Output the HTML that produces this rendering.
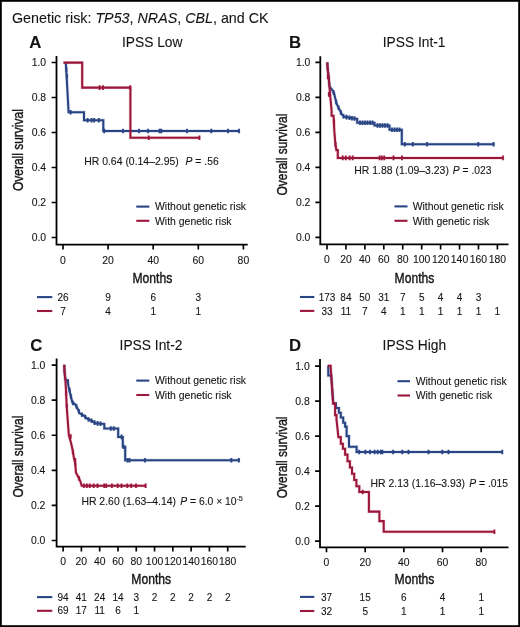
<!DOCTYPE html><html><head><meta charset="utf-8"><style>
html,body{margin:0;padding:0;background:#fff;}
svg{display:block;}
text{font-family:"Liberation Sans", sans-serif;fill:#141414;stroke:#141414;stroke-width:0.1px;}
</style></head><body>
<svg width="520" height="627" viewBox="0 0 520 627">
<rect x="0" y="0" width="520" height="627" fill="#fff"/>
<g style="filter:blur(0.25px)">
<text x="12" y="22.6" font-size="14.2" textLength="256.6" lengthAdjust="spacingAndGlyphs">Genetic risk: <tspan font-style="italic">TP53</tspan>, <tspan font-style="italic">NRAS</tspan>, <tspan font-style="italic">CBL</tspan>, and CK</text>
<path d="M56.5,56 V244.6 H247.7" fill="none" stroke="#000" stroke-width="1.8" stroke-linecap="butt"/>
<text x="46.1" y="66" font-size="10.4" text-anchor="end">1.0</text>
<text x="46.1" y="101" font-size="10.4" text-anchor="end">0.8</text>
<text x="46.1" y="136" font-size="10.4" text-anchor="end">0.6</text>
<text x="46.1" y="171" font-size="10.4" text-anchor="end">0.4</text>
<text x="46.1" y="206" font-size="10.4" text-anchor="end">0.2</text>
<text x="46.1" y="241" font-size="10.4" text-anchor="end">0.0</text>
<text x="63" y="263.6" font-size="10.4" text-anchor="middle">0</text>
<text x="108.1" y="263.6" font-size="10.4" text-anchor="middle">20</text>
<text x="153.2" y="263.6" font-size="10.4" text-anchor="middle">40</text>
<text x="198.3" y="263.6" font-size="10.4" text-anchor="middle">60</text>
<text x="243.4" y="263.6" font-size="10.4" text-anchor="middle">80</text>
<path d="M51.6,62.5 H56.5 M51.6,97.5 H56.5 M51.6,132.5 H56.5 M51.6,167.5 H56.5 M51.6,202.5 H56.5 M51.6,237.5 H56.5 M63,244.6 V249.6 M108.1,244.6 V249.6 M153.2,244.6 V249.6 M198.3,244.6 V249.6 M243.4,244.6 V249.6" fill="none" stroke="#000" stroke-width="1.65"/>
<text x="29.2" y="47.5" font-size="16.8" font-weight="bold">A</text>
<text x="152.2" y="47.4" font-size="13.8" text-anchor="middle">IPSS Low</text>
<text x="152.4" y="283.2" font-size="14.8" style="stroke-width:0.4px" text-anchor="middle" textLength="39.8" lengthAdjust="spacingAndGlyphs">Months</text>
<text transform="translate(23.3,150.1) rotate(-90)" x="0" y="0" font-size="14.2" style="stroke-width:0.4px" text-anchor="middle" textLength="81.8" lengthAdjust="spacingAndGlyphs">Overall survival</text>
<path d="M136.3,206.6 H149.3" stroke="#294482" stroke-width="2.1"/>
<path d="M136.3,220.8 H149.3" stroke="#9a173c" stroke-width="2.1"/>
<text x="155" y="210.3" font-size="10.45">Without genetic risk</text>
<text x="155" y="224.5" font-size="10.45">With genetic risk</text>
<path d="M37,297.1 H52.3" stroke="#294482" stroke-width="2.1"/>
<path d="M37,311 H52.3" stroke="#9a173c" stroke-width="2.1"/>
<text x="63" y="300.7" font-size="10" text-anchor="middle">26</text>
<text x="108.1" y="300.7" font-size="10" text-anchor="middle">9</text>
<text x="153.2" y="300.7" font-size="10" text-anchor="middle">6</text>
<text x="198.3" y="300.7" font-size="10" text-anchor="middle">3</text>
<text x="63" y="314.8" font-size="10" text-anchor="middle">7</text>
<text x="108.1" y="314.8" font-size="10" text-anchor="middle">4</text>
<text x="153.2" y="314.8" font-size="10" text-anchor="middle">1</text>
<text x="198.3" y="314.8" font-size="10" text-anchor="middle">1</text>
<text x="84.2" y="164.7" font-size="10.35" textLength="94.6" lengthAdjust="spacingAndGlyphs">HR 0.64 (0.14–2.95)</text>
<text x="185.6" y="164.7" font-size="10.35"><tspan font-style="italic">P</tspan> = .56</text>
<g fill="none" stroke="#3a5aa0" stroke-opacity="0.2"><path d="M65.8,62.6 L66.6,76 L68.6,112.2 H84 V120.2 H103.3 V131.0 H240" stroke-width="3.4499999999999997"/><path d="M66.4,67.1 V71.7 M66.9,73.7 V78.3 M70.6,109.9 V114.5 M87.6,117.9 V122.5 M91.6,117.9 V122.5 M94.2,117.9 V122.5 M98.8,117.9 V122.5 M104.2,128.7 V133.3 M123,128.7 V133.3 M139,128.7 V133.3 M148,128.7 V133.3 M159.5,128.7 V133.3 M161.3,128.7 V133.3 M187,128.7 V133.3 M211.3,128.7 V133.3 M228,128.7 V133.3 M239,128.7 V133.3" stroke-width="2.9"/></g>
<g fill="none" stroke="#294482"><path d="M65.8,62.6 L66.6,76 L68.6,112.2 H84 V120.2 H103.3 V131.0 H240" stroke-width="2.05"/><path d="M66.4,67.1 V71.7 M66.9,73.7 V78.3 M70.6,109.9 V114.5 M87.6,117.9 V122.5 M91.6,117.9 V122.5 M94.2,117.9 V122.5 M98.8,117.9 V122.5 M104.2,128.7 V133.3 M123,128.7 V133.3 M139,128.7 V133.3 M148,128.7 V133.3 M159.5,128.7 V133.3 M161.3,128.7 V133.3 M187,128.7 V133.3 M211.3,128.7 V133.3 M228,128.7 V133.3 M239,128.7 V133.3" stroke-width="1.7"/></g>
<g fill="none" stroke="#d0406a" stroke-opacity="0.2"><path d="M63.4,62.6 H82.2 V87.6 H130.4 V137.7 H199.6" stroke-width="3.4499999999999997"/><path d="M99.6,85.3 V89.9 M103,85.3 V89.9 M130.2,85.3 V89.9 M148.8,135.4 V140 M199.5,135.4 V140" stroke-width="2.9"/></g>
<g fill="none" stroke="#9a173c"><path d="M63.4,62.6 H82.2 V87.6 H130.4 V137.7 H199.6" stroke-width="2.05"/><path d="M99.6,85.3 V89.9 M103,85.3 V89.9 M130.2,85.3 V89.9 M148.8,135.4 V140 M199.5,135.4 V140" stroke-width="1.7"/></g>
<path d="M320.3,56.2 V244.4 H508.5" fill="none" stroke="#000" stroke-width="1.8" stroke-linecap="butt"/>
<text x="310.4" y="65.9" font-size="10.4" text-anchor="end">1.0</text>
<text x="310.4" y="100.9" font-size="10.4" text-anchor="end">0.8</text>
<text x="310.4" y="135.9" font-size="10.4" text-anchor="end">0.6</text>
<text x="310.4" y="170.9" font-size="10.4" text-anchor="end">0.4</text>
<text x="310.4" y="205.9" font-size="10.4" text-anchor="end">0.2</text>
<text x="310.4" y="240.9" font-size="10.4" text-anchor="end">0.0</text>
<text x="327" y="263.3" font-size="10.4" text-anchor="middle">0</text>
<text x="345.93" y="263.3" font-size="10.4" text-anchor="middle">20</text>
<text x="364.87" y="263.3" font-size="10.4" text-anchor="middle">40</text>
<text x="383.8" y="263.3" font-size="10.4" text-anchor="middle">60</text>
<text x="402.73" y="263.3" font-size="10.4" text-anchor="middle">80</text>
<text x="421.67" y="263.3" font-size="10.4" text-anchor="middle">100</text>
<text x="440.6" y="263.3" font-size="10.4" text-anchor="middle">120</text>
<text x="459.53" y="263.3" font-size="10.4" text-anchor="middle">140</text>
<text x="478.47" y="263.3" font-size="10.4" text-anchor="middle">160</text>
<text x="497.4" y="263.3" font-size="10.4" text-anchor="middle">180</text>
<path d="M315.4,62.4 H320.3 M315.4,97.4 H320.3 M315.4,132.4 H320.3 M315.4,167.4 H320.3 M315.4,202.4 H320.3 M315.4,237.4 H320.3 M327,244.4 V249.4 M345.93,244.4 V249.4 M364.87,244.4 V249.4 M383.8,244.4 V249.4 M402.73,244.4 V249.4 M421.67,244.4 V249.4 M440.6,244.4 V249.4 M459.53,244.4 V249.4 M478.47,244.4 V249.4 M497.4,244.4 V249.4" fill="none" stroke="#000" stroke-width="1.65"/>
<text x="288.9" y="47.6" font-size="16.8" font-weight="bold">B</text>
<text x="414.1" y="47.4" font-size="13.8" text-anchor="middle">IPSS Int-1</text>
<text x="414.5" y="283.3" font-size="14.8" style="stroke-width:0.4px" text-anchor="middle" textLength="39.8" lengthAdjust="spacingAndGlyphs">Months</text>
<text transform="translate(287,154.6) rotate(-90)" x="0" y="0" font-size="14.2" style="stroke-width:0.4px" text-anchor="middle" textLength="81.8" lengthAdjust="spacingAndGlyphs">Overall survival</text>
<path d="M394.5,206.4 H407.5" stroke="#294482" stroke-width="2.1"/>
<path d="M394.5,220.8 H407.5" stroke="#9a173c" stroke-width="2.1"/>
<text x="412.7" y="210.1" font-size="10.45">Without genetic risk</text>
<text x="412.7" y="224.5" font-size="10.45">With genetic risk</text>
<path d="M300,297 H314.3" stroke="#294482" stroke-width="2.1"/>
<path d="M300,310.9 H314.3" stroke="#9a173c" stroke-width="2.1"/>
<text x="327" y="300.7" font-size="10" text-anchor="middle">173</text>
<text x="345.93" y="300.7" font-size="10" text-anchor="middle">84</text>
<text x="364.87" y="300.7" font-size="10" text-anchor="middle">50</text>
<text x="383.8" y="300.7" font-size="10" text-anchor="middle">31</text>
<text x="402.73" y="300.7" font-size="10" text-anchor="middle">7</text>
<text x="421.67" y="300.7" font-size="10" text-anchor="middle">5</text>
<text x="440.6" y="300.7" font-size="10" text-anchor="middle">4</text>
<text x="459.53" y="300.7" font-size="10" text-anchor="middle">4</text>
<text x="478.47" y="300.7" font-size="10" text-anchor="middle">3</text>
<text x="327" y="314.8" font-size="10" text-anchor="middle">33</text>
<text x="345.93" y="314.8" font-size="10" text-anchor="middle">11</text>
<text x="364.87" y="314.8" font-size="10" text-anchor="middle">7</text>
<text x="383.8" y="314.8" font-size="10" text-anchor="middle">4</text>
<text x="402.73" y="314.8" font-size="10" text-anchor="middle">1</text>
<text x="421.67" y="314.8" font-size="10" text-anchor="middle">1</text>
<text x="440.6" y="314.8" font-size="10" text-anchor="middle">1</text>
<text x="459.53" y="314.8" font-size="10" text-anchor="middle">1</text>
<text x="478.47" y="314.8" font-size="10" text-anchor="middle">1</text>
<text x="497.4" y="314.8" font-size="10" text-anchor="middle">1</text>
<text x="354.3" y="173.5" font-size="10.35" textLength="94.6" lengthAdjust="spacingAndGlyphs">HR 1.88 (1.09–3.23)</text>
<text x="452.7" y="173.5" font-size="10.35"><tspan font-style="italic">P</tspan> = .023</text>
<g fill="none" stroke="#3a5aa0" stroke-opacity="0.2"><path d="M327.3,62.4 L327.7,69.5 L328.7,77.1 L329.5,86.7 L331.6,89 L334,93 L335.6,99.7 L336.8,104.2 L339,108.6 L341.8,114.2 L344,116.8 L347.4,117.3 L352.4,118.3 L357.2,118.8 V122.8 H374.5 V125.5 H389.5 V129.8 H401.8 V144.2 H494.4" stroke-width="3.4499999999999997"/><path d="M333.5,90.1 V94.7 M336.2,99.7 V104.3 M338.5,105.5 V110.1 M340.8,110.1 V114.7 M343.5,114 V118.6 M346.5,114.8 V119.4 M349.5,115.4 V120 M352,115.9 V120.5 M354.5,116.2 V120.8 M360,120.5 V125.1 M362.5,120.5 V125.1 M365,120.5 V125.1 M367.5,120.5 V125.1 M370,120.5 V125.1 M372.5,120.5 V125.1 M377.5,123.2 V127.8 M380,123.2 V127.8 M382.5,123.2 V127.8 M385,123.2 V127.8 M387.5,123.2 V127.8 M392,127.5 V132.1 M394.5,127.5 V132.1 M397,127.5 V132.1 M399.5,127.5 V132.1 M404.8,141.9 V146.5 M412.8,141.9 V146.5 M427.1,141.9 V146.5 M478.3,141.9 V146.5 M493.6,141.9 V146.5" stroke-width="2.9"/></g>
<g fill="none" stroke="#294482"><path d="M327.3,62.4 L327.7,69.5 L328.7,77.1 L329.5,86.7 L331.6,89 L334,93 L335.6,99.7 L336.8,104.2 L339,108.6 L341.8,114.2 L344,116.8 L347.4,117.3 L352.4,118.3 L357.2,118.8 V122.8 H374.5 V125.5 H389.5 V129.8 H401.8 V144.2 H494.4" stroke-width="2.05"/><path d="M333.5,90.1 V94.7 M336.2,99.7 V104.3 M338.5,105.5 V110.1 M340.8,110.1 V114.7 M343.5,114 V118.6 M346.5,114.8 V119.4 M349.5,115.4 V120 M352,115.9 V120.5 M354.5,116.2 V120.8 M360,120.5 V125.1 M362.5,120.5 V125.1 M365,120.5 V125.1 M367.5,120.5 V125.1 M370,120.5 V125.1 M372.5,120.5 V125.1 M377.5,123.2 V127.8 M380,123.2 V127.8 M382.5,123.2 V127.8 M385,123.2 V127.8 M387.5,123.2 V127.8 M392,127.5 V132.1 M394.5,127.5 V132.1 M397,127.5 V132.1 M399.5,127.5 V132.1 M404.8,141.9 V146.5 M412.8,141.9 V146.5 M427.1,141.9 V146.5 M478.3,141.9 V146.5 M493.6,141.9 V146.5" stroke-width="1.7"/></g>
<g fill="none" stroke="#d0406a" stroke-opacity="0.2"><path d="M327.3,62.4 L327.7,69.5 L328.7,77.1 L329.5,86.7 L330.1,94.4 L330.8,102 L331.6,110.6 V115.7 H333.5 L334.4,131.9 L335.4,144.4 L336.4,150.1 H337.8 V157.9 H503.3" stroke-width="3.4499999999999997"/><path d="M327.8,74.7 V79.3 M328.8,92.1 V96.7 M334.1,119.6 V124.2 M335.6,142.3 V146.9 M342.7,155.6 V160.2 M345.8,155.6 V160.2 M349.6,155.6 V160.2 M352.7,155.6 V160.2 M379.6,155.6 V160.2 M381.8,155.6 V160.2 M384.2,155.6 V160.2 M393.5,155.6 V160.2 M402,155.6 V160.2 M503,155.6 V160.2" stroke-width="2.9"/></g>
<g fill="none" stroke="#9a173c"><path d="M327.3,62.4 L327.7,69.5 L328.7,77.1 L329.5,86.7 L330.1,94.4 L330.8,102 L331.6,110.6 V115.7 H333.5 L334.4,131.9 L335.4,144.4 L336.4,150.1 H337.8 V157.9 H503.3" stroke-width="2.05"/><path d="M327.8,74.7 V79.3 M328.8,92.1 V96.7 M334.1,119.6 V124.2 M335.6,142.3 V146.9 M342.7,155.6 V160.2 M345.8,155.6 V160.2 M349.6,155.6 V160.2 M352.7,155.6 V160.2 M379.6,155.6 V160.2 M381.8,155.6 V160.2 M384.2,155.6 V160.2 M393.5,155.6 V160.2 M402,155.6 V160.2 M503,155.6 V160.2" stroke-width="1.7"/></g>
<path d="M56.6,358.5 V546.6 H245.7" fill="none" stroke="#000" stroke-width="1.8" stroke-linecap="butt"/>
<text x="45.4" y="368.6" font-size="10.4" text-anchor="end">1.0</text>
<text x="45.4" y="403.68" font-size="10.4" text-anchor="end">0.8</text>
<text x="45.4" y="438.76" font-size="10.4" text-anchor="end">0.6</text>
<text x="45.4" y="473.84" font-size="10.4" text-anchor="end">0.4</text>
<text x="45.4" y="508.92" font-size="10.4" text-anchor="end">0.2</text>
<text x="45.4" y="544" font-size="10.4" text-anchor="end">0.0</text>
<text x="63.1" y="564.8" font-size="10.4" text-anchor="middle">0</text>
<text x="81.39" y="564.8" font-size="10.4" text-anchor="middle">20</text>
<text x="99.68" y="564.8" font-size="10.4" text-anchor="middle">40</text>
<text x="117.97" y="564.8" font-size="10.4" text-anchor="middle">60</text>
<text x="136.26" y="564.8" font-size="10.4" text-anchor="middle">80</text>
<text x="154.54" y="564.8" font-size="10.4" text-anchor="middle">100</text>
<text x="172.83" y="564.8" font-size="10.4" text-anchor="middle">120</text>
<text x="191.12" y="564.8" font-size="10.4" text-anchor="middle">140</text>
<text x="209.41" y="564.8" font-size="10.4" text-anchor="middle">160</text>
<text x="227.7" y="564.8" font-size="10.4" text-anchor="middle">180</text>
<path d="M51.7,365.1 H56.6 M51.7,400.18 H56.6 M51.7,435.26 H56.6 M51.7,470.34 H56.6 M51.7,505.42 H56.6 M51.7,540.5 H56.6 M63.1,546.6 V551.6 M81.39,546.6 V551.6 M99.68,546.6 V551.6 M117.97,546.6 V551.6 M136.26,546.6 V551.6 M154.54,546.6 V551.6 M172.83,546.6 V551.6 M191.12,546.6 V551.6 M209.41,546.6 V551.6 M227.7,546.6 V551.6" fill="none" stroke="#000" stroke-width="1.65"/>
<text x="30.2" y="350.8" font-size="16.8" font-weight="bold">C</text>
<text x="151" y="350.4" font-size="13.8" text-anchor="middle">IPSS Int-2</text>
<text x="151.25" y="584.1" font-size="14.8" style="stroke-width:0.4px" text-anchor="middle" textLength="39.8" lengthAdjust="spacingAndGlyphs">Months</text>
<text transform="translate(23.3,456.6) rotate(-90)" x="0" y="0" font-size="14.2" style="stroke-width:0.4px" text-anchor="middle" textLength="81.8" lengthAdjust="spacingAndGlyphs">Overall survival</text>
<path d="M136.3,380.6 H149.3" stroke="#294482" stroke-width="2.1"/>
<path d="M136.3,395 H149.3" stroke="#9a173c" stroke-width="2.1"/>
<text x="155" y="384.3" font-size="10.45">Without genetic risk</text>
<text x="155" y="398.7" font-size="10.45">With genetic risk</text>
<path d="M37,597.1 H52.3" stroke="#294482" stroke-width="2.1"/>
<path d="M37,610.8 H52.3" stroke="#9a173c" stroke-width="2.1"/>
<text x="63.1" y="600.8" font-size="10" text-anchor="middle">94</text>
<text x="81.39" y="600.8" font-size="10" text-anchor="middle">41</text>
<text x="99.68" y="600.8" font-size="10" text-anchor="middle">24</text>
<text x="117.97" y="600.8" font-size="10" text-anchor="middle">14</text>
<text x="136.26" y="600.8" font-size="10" text-anchor="middle">3</text>
<text x="154.54" y="600.8" font-size="10" text-anchor="middle">2</text>
<text x="172.83" y="600.8" font-size="10" text-anchor="middle">2</text>
<text x="191.12" y="600.8" font-size="10" text-anchor="middle">2</text>
<text x="209.41" y="600.8" font-size="10" text-anchor="middle">2</text>
<text x="227.7" y="600.8" font-size="10" text-anchor="middle">2</text>
<text x="63.1" y="614.4" font-size="10" text-anchor="middle">69</text>
<text x="81.39" y="614.4" font-size="10" text-anchor="middle">17</text>
<text x="99.68" y="614.4" font-size="10" text-anchor="middle">11</text>
<text x="117.97" y="614.4" font-size="10" text-anchor="middle">6</text>
<text x="136.26" y="614.4" font-size="10" text-anchor="middle">1</text>
<text x="81.4" y="505.3" font-size="10.35" textLength="94.6" lengthAdjust="spacingAndGlyphs">HR 2.60 (1.63–4.14)</text>
<text x="180.2" y="505.3" font-size="10.35"><tspan font-style="italic">P</tspan> = 6.0 × 10<tspan font-size="7.4" dy="-4.4" dx="-0.2">-5</tspan></text>
<g fill="none" stroke="#3a5aa0" stroke-opacity="0.2"><path d="M64.3,364.8 L64.5,371.5 L65.3,379 L67.3,380.5 L68.6,386.8 L70.9,396.7 L72.4,402.5 L75.2,404.3 L78.1,409.7 L79.5,413.3 L83.8,415.6 L86.7,418.3 L92.4,421.2 L95.3,423.2 L104.3,424 V428.4 H118.2 V436.9 H122.8 V446.7 H125.2 V460.3 H240" stroke-width="3.4499999999999997"/><path d="M68.1,379.2 V383.8 M69.6,387.7 V392.3 M71,394.2 V398.8 M73,400.7 V405.3 M76.5,404.2 V408.8 M79,409.2 V413.8 M82,412.5 V417.1 M85.3,414.7 V419.3 M88.5,417.2 V421.8 M91.5,418.5 V423.1 M94.5,420.3 V424.9 M97.5,421.1 V425.7 M100.5,421.4 V426 M110.8,426.2 V430.8 M113.8,426.2 V430.8 M121.5,434.6 V439.2 M123.5,444.4 V449 M127.5,458 V462.6 M129.5,458 V462.6 M145,458 V462.6 M231.3,458 V462.6 M238.8,458 V462.6" stroke-width="2.9"/></g>
<g fill="none" stroke="#294482"><path d="M64.3,364.8 L64.5,371.5 L65.3,379 L67.3,380.5 L68.6,386.8 L70.9,396.7 L72.4,402.5 L75.2,404.3 L78.1,409.7 L79.5,413.3 L83.8,415.6 L86.7,418.3 L92.4,421.2 L95.3,423.2 L104.3,424 V428.4 H118.2 V436.9 H122.8 V446.7 H125.2 V460.3 H240" stroke-width="2.05"/><path d="M68.1,379.2 V383.8 M69.6,387.7 V392.3 M71,394.2 V398.8 M73,400.7 V405.3 M76.5,404.2 V408.8 M79,409.2 V413.8 M82,412.5 V417.1 M85.3,414.7 V419.3 M88.5,417.2 V421.8 M91.5,418.5 V423.1 M94.5,420.3 V424.9 M97.5,421.1 V425.7 M100.5,421.4 V426 M110.8,426.2 V430.8 M113.8,426.2 V430.8 M121.5,434.6 V439.2 M123.5,444.4 V449 M127.5,458 V462.6 M129.5,458 V462.6 M145,458 V462.6 M231.3,458 V462.6 M238.8,458 V462.6" stroke-width="1.7"/></g>
<g fill="none" stroke="#d0406a" stroke-opacity="0.2"><path d="M64.3,364.8 L64.5,371.5 L65.3,379 L65.9,388.7 L66.7,406 L67.9,422.8 L68.9,435.5 L70.8,441.9 L72.8,450.8 L74,458.5 L75.3,463.6 L75.9,472.5 L77.9,476.3 L80.4,481.4 L81.7,485.8 H146.2" stroke-width="3.4499999999999997"/><path d="M66.2,391.2 V395.8 M66.7,403.7 V408.3 M70.8,434.2 V438.8 M72.8,449.7 V454.3 M75.3,458.1 V462.7 M75.3,460.9 V465.5 M79.1,476.2 V480.8 M84,483.5 V488.1 M86.9,483.5 V488.1 M89.8,483.5 V488.1 M93.7,483.5 V488.1 M97.5,483.5 V488.1 M104.2,483.5 V488.1 M106.2,483.5 V488.1 M111.9,483.5 V488.1 M117.7,483.5 V488.1 M121.5,483.5 V488.1 M127.3,483.5 V488.1 M131.2,483.5 V488.1 M136,483.5 V488.1 M145.6,483.5 V488.1" stroke-width="2.9"/></g>
<g fill="none" stroke="#9a173c"><path d="M64.3,364.8 L64.5,371.5 L65.3,379 L65.9,388.7 L66.7,406 L67.9,422.8 L68.9,435.5 L70.8,441.9 L72.8,450.8 L74,458.5 L75.3,463.6 L75.9,472.5 L77.9,476.3 L80.4,481.4 L81.7,485.8 H146.2" stroke-width="2.05"/><path d="M66.2,391.2 V395.8 M66.7,403.7 V408.3 M70.8,434.2 V438.8 M72.8,449.7 V454.3 M75.3,458.1 V462.7 M75.3,460.9 V465.5 M79.1,476.2 V480.8 M84,483.5 V488.1 M86.9,483.5 V488.1 M89.8,483.5 V488.1 M93.7,483.5 V488.1 M97.5,483.5 V488.1 M104.2,483.5 V488.1 M106.2,483.5 V488.1 M111.9,483.5 V488.1 M117.7,483.5 V488.1 M121.5,483.5 V488.1 M127.3,483.5 V488.1 M131.2,483.5 V488.1 M136,483.5 V488.1 M145.6,483.5 V488.1" stroke-width="1.7"/></g>
<path d="M320,358.9 V547.3 H508.5" fill="none" stroke="#000" stroke-width="1.8" stroke-linecap="butt"/>
<text x="309.7" y="369.6" font-size="10.4" text-anchor="end">1.0</text>
<text x="309.7" y="404.6" font-size="10.4" text-anchor="end">0.8</text>
<text x="309.7" y="439.6" font-size="10.4" text-anchor="end">0.6</text>
<text x="309.7" y="474.6" font-size="10.4" text-anchor="end">0.4</text>
<text x="309.7" y="509.6" font-size="10.4" text-anchor="end">0.2</text>
<text x="309.7" y="544.6" font-size="10.4" text-anchor="end">0.0</text>
<text x="326.5" y="566" font-size="10.4" text-anchor="middle">0</text>
<text x="365.18" y="566" font-size="10.4" text-anchor="middle">20</text>
<text x="403.85" y="566" font-size="10.4" text-anchor="middle">40</text>
<text x="442.52" y="566" font-size="10.4" text-anchor="middle">60</text>
<text x="481.2" y="566" font-size="10.4" text-anchor="middle">80</text>
<path d="M315.1,366.1 H320 M315.1,401.1 H320 M315.1,436.1 H320 M315.1,471.1 H320 M315.1,506.1 H320 M315.1,541.1 H320 M326.5,547.3 V552.3 M365.18,547.3 V552.3 M403.85,547.3 V552.3 M442.52,547.3 V552.3 M481.2,547.3 V552.3" fill="none" stroke="#000" stroke-width="1.65"/>
<text x="288.9" y="350.8" font-size="16.8" font-weight="bold">D</text>
<text x="414.4" y="350.4" font-size="13.8" text-anchor="middle">IPSS High</text>
<text x="414.5" y="584.3" font-size="14.8" style="stroke-width:0.4px" text-anchor="middle" textLength="39.8" lengthAdjust="spacingAndGlyphs">Months</text>
<text transform="translate(287,457.4) rotate(-90)" x="0" y="0" font-size="14.2" style="stroke-width:0.4px" text-anchor="middle" textLength="81.8" lengthAdjust="spacingAndGlyphs">Overall survival</text>
<path d="M397.5,381.2 H410" stroke="#294482" stroke-width="2.1"/>
<path d="M397.5,395.5 H410" stroke="#9a173c" stroke-width="2.1"/>
<text x="415.7" y="384.9" font-size="10.45">Without genetic risk</text>
<text x="415.7" y="399.2" font-size="10.45">With genetic risk</text>
<path d="M300,596.9 H314.3" stroke="#294482" stroke-width="2.1"/>
<path d="M300,611 H314.3" stroke="#9a173c" stroke-width="2.1"/>
<text x="326.5" y="601.1" font-size="10" text-anchor="middle">37</text>
<text x="365.18" y="601.1" font-size="10" text-anchor="middle">15</text>
<text x="403.85" y="601.1" font-size="10" text-anchor="middle">6</text>
<text x="442.52" y="601.1" font-size="10" text-anchor="middle">4</text>
<text x="481.2" y="601.1" font-size="10" text-anchor="middle">1</text>
<text x="326.5" y="614.9" font-size="10" text-anchor="middle">32</text>
<text x="365.18" y="614.9" font-size="10" text-anchor="middle">5</text>
<text x="403.85" y="614.9" font-size="10" text-anchor="middle">1</text>
<text x="442.52" y="614.9" font-size="10" text-anchor="middle">1</text>
<text x="481.2" y="614.9" font-size="10" text-anchor="middle">1</text>
<text x="370.5" y="487.1" font-size="10.35" textLength="94.6" lengthAdjust="spacingAndGlyphs">HR 2.13 (1.16–3.93)</text>
<text x="469.3" y="487.1" font-size="10.35"><tspan font-style="italic">P</tspan> = .015</text>
<g fill="none" stroke="#3a5aa0" stroke-opacity="0.2"><path d="M328.3,365.9 V375.5 H331.2 L333.2,403.2 H335.1 H336 V407.9 H338.9 V412.7 H340.8 V417.5 H343.2 V422.8 H345.1 V426.6 H346.6 V436.1 H349 V446.7 H356.6 V452.0 H502.5" stroke-width="3.4499999999999997"/><path d="M359.2,449.7 V454.3 M365.4,449.7 V454.3 M370,449.7 V454.3 M374.6,449.7 V454.3 M377.7,449.7 V454.3 M380.8,449.7 V454.3 M382.3,449.7 V454.3 M393.1,449.7 V454.3 M402.3,449.7 V454.3 M408.5,449.7 V454.3 M428.5,449.7 V454.3 M442.3,449.7 V454.3 M448.5,449.7 V454.3 M502.3,449.7 V454.3" stroke-width="2.9"/></g>
<g fill="none" stroke="#294482"><path d="M328.3,365.9 V375.5 H331.2 L333.2,403.2 H335.1 H336 V407.9 H338.9 V412.7 H340.8 V417.5 H343.2 V422.8 H345.1 V426.6 H346.6 V436.1 H349 V446.7 H356.6 V452.0 H502.5" stroke-width="2.05"/><path d="M359.2,449.7 V454.3 M365.4,449.7 V454.3 M370,449.7 V454.3 M374.6,449.7 V454.3 M377.7,449.7 V454.3 M380.8,449.7 V454.3 M382.3,449.7 V454.3 M393.1,449.7 V454.3 M402.3,449.7 V454.3 M408.5,449.7 V454.3 M428.5,449.7 V454.3 M442.3,449.7 V454.3 M448.5,449.7 V454.3 M502.3,449.7 V454.3" stroke-width="1.7"/></g>
<g fill="none" stroke="#d0406a" stroke-opacity="0.2"><path d="M327.6,365.8 H330.6 L333.2,403.6 H335.1 V415.1 H336.5 V419.4 L338.4,437.1 H340.8 V443.8 H342.9 V448.8 H345.1 V454.6 H347.5 V461.3 H349.9 V467.5 H352 V473.7 H354.2 V479.9 H356.4 V486.2 H359.3 V492 H368.9 V511.6 H379.4 V521.1 H383.7 V531.7 H494.6" stroke-width="3.4499999999999997"/><path d="M362.7,489.7 V494.3 M494.4,529.4 V534" stroke-width="2.9"/></g>
<g fill="none" stroke="#9a173c"><path d="M327.6,365.8 H330.6 L333.2,403.6 H335.1 V415.1 H336.5 V419.4 L338.4,437.1 H340.8 V443.8 H342.9 V448.8 H345.1 V454.6 H347.5 V461.3 H349.9 V467.5 H352 V473.7 H354.2 V479.9 H356.4 V486.2 H359.3 V492 H368.9 V511.6 H379.4 V521.1 H383.7 V531.7 H494.6" stroke-width="2.05"/><path d="M362.7,489.7 V494.3 M494.4,529.4 V534" stroke-width="1.7"/></g>
</g>
<rect x="0.9" y="0.9" width="518.2" height="625.2" fill="none" stroke="#000" stroke-width="1.8"/>
</svg></body></html>
